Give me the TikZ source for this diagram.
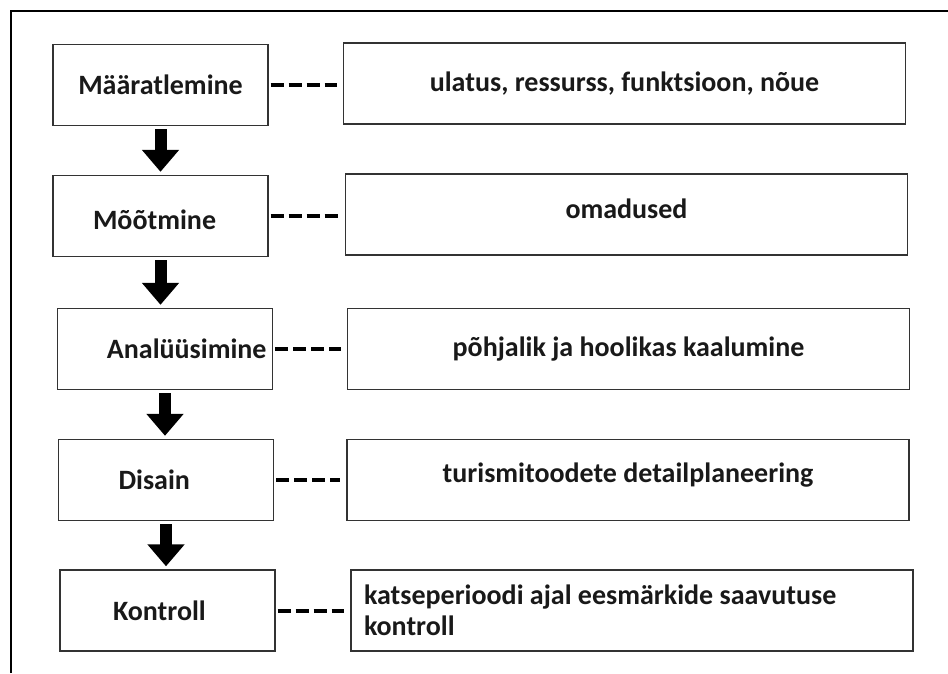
\documentclass[tikz,border=0pt]{standalone}
\usepackage{fontspec}
\setmainfont{Carlito}
\usetikzlibrary{positioning, calc, arrows.meta}
\tikzset{
every node/.style = {font = \bfseries\fontsize{28}{31}\selectfont, text = black!90},
stage/.style = {rectangle, draw = black!80, line width = 1.4pt, minimum width = 215pt,
   minimum height = 81pt, inner sep = 0pt},
detail/.style = {rectangle, draw = black!80, line width = 1.4pt, minimum width = 562pt,
   minimum height = 81pt, inner sep = 0pt},
flow/.style = {line width = 12pt, -{Triangle[width = 36pt, length = 22pt]},
   shorten < = 3pt, shorten > = 3pt},
link/.style = {line width = 4pt, dash pattern = on 13pt off 5pt,
   shorten < = 2pt, shorten > = 6pt},
frame/.style = {line width = 2pt}
}

\begin{document}
\begin{tikzpicture}[x = 1pt, y = -1pt]
\useasboundingbox (0,0) rectangle (948,673);

%% The frame
\draw [frame] (11,673) -- (11,11) -- (948,11);

%% The stages
\node [stage] (st1) at (160.5,85) {Määratlemine};
\node [stage, text height = 27pt, inner xsep = 40pt, text width = 135pt, align = flush left]
   (st2) at (160.5,216) {Mõõtmine};
\node [stage, inner xsep = 6pt, text width = 203pt, align = flush right]
   (st3) at (165,349) {Analüüsimine};
\node [stage, inner xsep = 60pt, text width = 95pt, align = flush left]
   (st4) at (166,480) {Disain};
\node [stage, inner xsep = 53pt, text width = 109pt, align = flush left]
   (st5) at (167.5,610.5) {Kontroll};

%% Their details
\node [detail] (ds1) at (624.5,83.5) {ulatus, ressurss, funktsioon, nõue};
\node [detail, text depth = 12pt] (ds2) at (626.5,214.5) {omadused};
\node [detail] (ds3) at (628.5,349) {põhjalik ja hoolikas kaalumine};
\node [detail, text depth = 15pt] (ds4) at (628,480) {turismitoodete detailplaneering};
\node [detail, text width = 536pt, inner xsep = 13pt, align = flush left] (ds5)
   at (632,610.5) {katseperioodi ajal eesmärkide saavutuse\\kontroll};

%% Flow between stages
\draw [flow] (st1.south) -- (st1.south |- st2.north);
\draw [flow] (st2.south) -- (st2.south |- st3.north);
\draw [flow] (st3.south) -- (st3.south |- st4.north);
\draw [flow] (st4.south) -- (st4.south |- st5.north);

%% Links to details
\draw [link] (st1.east) -- (ds1.west |- st1.east);
\draw [link] (st2.east) -- (ds2.west |- st2.east);
\draw [link] (st3.east) -- (ds3.west |- st3.east);
\draw [link] (st4.east) -- (ds4.west |- st4.east);
\draw [link] (st5.east) -- (ds5.west |- st5.east);

\end{tikzpicture}
\end{document}
